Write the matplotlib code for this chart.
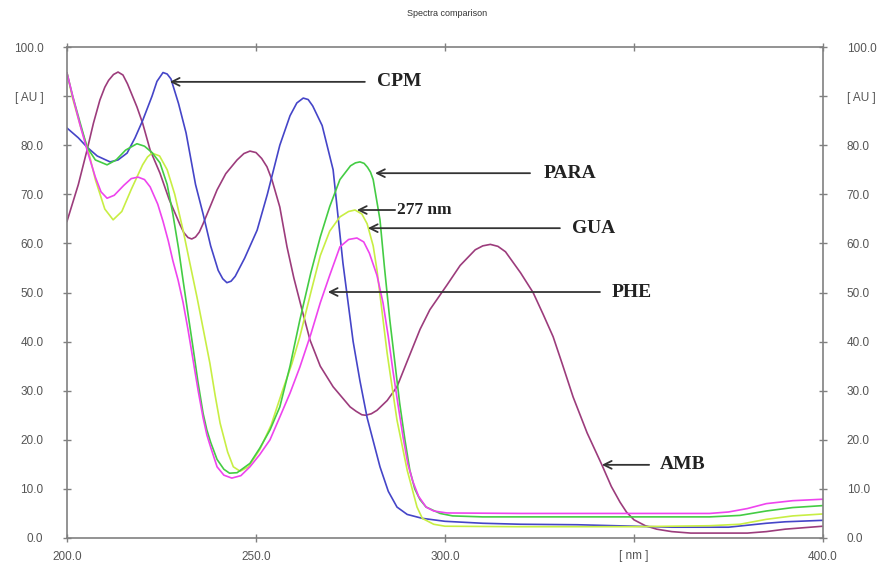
import matplotlib
matplotlib.use("Agg")
import matplotlib.pyplot as plt

# ---------------- data ----------------
amb_x = [200, 203, 205.3, 207, 208.7, 210, 211, 212.3, 213.5, 214.8, 216, 218.5, 220, 222, 224.6,
         227, 229.9, 230.9, 232, 233, 234, 235, 236, 239.7, 242, 245, 246.8, 248.4, 250, 251.5,
         252.9, 254.2, 256.3, 258.2, 260, 262.4, 264.3, 267, 270.4, 274.9, 276.5, 278, 279, 280.5,
         282, 284.7, 287.3, 290, 293.4, 296, 300.5, 304, 308, 310, 312, 314, 316, 320, 323.3, 326,
         328.6, 331, 333.9, 337.6, 341.5, 344, 346.3, 348, 350, 353, 356, 360, 365, 370, 375, 380,
         385, 390, 395, 400]
amb_y = [64.5, 72, 79, 84.5, 89.2, 91.8, 93.2, 94.4, 94.9, 94.3, 92.5, 87.8, 84.5, 79, 74.3,
         69, 63.8, 62.2, 61.2, 60.9, 61.3, 62.3, 64, 70.9, 74.2, 77, 78.3, 78.8, 78.5, 77.3,
         75.6, 73, 67.4, 59.3, 53, 45.8, 40.3, 35, 30.8, 26.7, 25.8, 25.1, 25, 25.3,
         26, 28, 30.8, 36, 42.5, 46.5, 51.5, 55.5, 58.7, 59.5, 59.8, 59.4, 58.3, 54, 50, 45.5,
         41, 35.5, 28.7, 21.4, 14.9, 10.5, 7.3, 5.3, 3.7, 2.5, 1.8, 1.3, 1.0, 1.0, 1.0, 1.0,
         1.3, 1.8, 2.1, 2.4]

cpm_x = [200, 203, 205.3, 208, 211.4, 213.5, 215.9, 218, 220, 222.5, 223.8, 225.4, 226.5, 227.5,
         229.5, 231.5, 234, 236, 238, 240, 241.2, 242.3, 243.4, 244.5, 247, 250.3, 253, 256.3, 259,
         260.8, 262.5, 263.8, 265, 267.5, 270.4, 273, 275.7, 277.5, 279.4, 282.8, 285, 287.3, 290,
         294, 300, 310, 320, 335, 350, 360, 370, 375, 380, 385, 390, 400]
cpm_y = [83.5, 81.5, 79.6, 77.8, 76.6, 77, 78.4, 81.5, 85, 90, 93, 94.8, 94.5, 93.5,
         88.5, 82.5, 72, 66, 59.5, 54.5, 52.8, 52, 52.3, 53.3, 57, 62.7, 70, 80, 86,
         88.6, 89.6, 89.3, 88, 84, 75, 56, 40, 32, 24.5, 14.5, 9.5, 6.3, 4.8,
         4.0, 3.4, 3.0, 2.8, 2.7, 2.4, 2.2, 2.2, 2.2, 2.6, 3.0, 3.3, 3.6]

para_x = [200, 201.5, 203.5, 205.3, 207.5, 210.6, 213, 215.5, 218.5, 220.5, 222.5, 224.6, 226.5,
          228, 229.5, 230.7, 232, 233.3, 234.6, 236, 237, 238, 239.7, 241.5, 243, 245, 248.4, 251,
          253.7, 256.3, 259, 261.6, 264.5, 267, 269.5, 272.2, 275, 276.3, 277.5, 278.6, 279.5,
          280.3, 281, 282.8, 284, 285.4, 286.7, 288, 289.4, 290.7, 292, 293.4, 295, 298.7, 302,
          310, 330, 350, 370, 378, 385, 392, 400]
para_y = [94.7, 90, 84.5, 79.6, 77, 76, 77, 79, 80.3, 79.8, 78.5, 76.4, 72,
          66, 59, 52.5, 45.7, 39, 32, 25.4, 22, 19.5, 16, 14, 13.2, 13.3, 15.2, 18.3,
          22, 26.7, 35, 44.4, 54, 61.3, 67.5, 73, 75.8, 76.4, 76.6, 76.3, 75.5,
          74.5, 73, 64.8, 55, 44.4, 36, 27.5, 20, 13.8, 10, 7.8, 6.3, 5.0, 4.5,
          4.3, 4.3, 4.3, 4.3, 4.6, 5.5, 6.2, 6.6]

gua_x = [200, 201.5, 203.5, 205.6, 207.5, 210, 212.2, 214.5, 217, 220, 221.3, 222.5, 224.5, 226.5,
         228.5, 230.7, 232.5, 234.4, 236.1, 237.8, 239.2, 240.5, 242.5, 244, 245.8, 248, 251, 254,
         257, 259.5, 261.6, 264.5, 267, 269.5, 272.2, 274.5, 276.2, 278, 279.4, 281, 282, 284.7,
         287.3, 290, 292.6, 294, 297, 300, 320, 350, 370, 378, 385, 392, 400]
gua_y = [94.7, 89.5, 84, 79, 73, 67, 64.8, 66.5, 71, 76, 77.6, 78.4, 77.8, 75,
         70, 62.7, 56, 49, 42.3, 35.6, 29, 23.4, 17.5, 14.5, 13.6, 14.5, 18, 23,
         30, 35.5, 41, 50, 57.5, 62.5, 65.4, 66.5, 66.8, 66, 64, 59.5, 54.6, 37.6,
         24, 13.8, 6.3, 4.0, 2.8, 2.4, 2.3, 2.3, 2.5, 2.8, 3.8, 4.5, 4.9]

phe_x = [200, 201.5, 203.5, 205.5, 207.5, 209, 210.6, 212.5, 215, 217, 218.8, 220.5, 222, 224,
         225.4, 226.8, 228, 229.4, 230.7, 232, 233.3, 234.7, 236, 237, 238, 239.7, 241.5, 243.6,
         246, 248.4, 251, 253.7, 256.5, 259, 261.6, 264.5, 267, 269.5, 272.2, 274.5, 276.7, 278.5,
         280, 282, 283.6, 285, 286.2, 287.5, 288.9, 290.2, 291.5, 293, 295, 297, 300.5, 320, 350,
         370, 375, 380, 385, 392, 400]
phe_y = [94.7, 90, 84, 78.5, 73.5, 70.5, 69.2, 69.8, 71.8, 73.2, 73.5, 73, 71.5, 68,
         64.5, 60.5, 56.5, 52.5, 48, 42.5, 36.5, 30, 24.5, 21, 18.5, 14.5, 12.8, 12.2,
         12.7, 14.5, 17, 20, 25, 29.5, 34.8, 41.5, 47.9, 53.5, 59.3, 60.8, 61.1, 60.3,
         58, 53.5, 47.9, 41, 34.2, 27.5, 20.6, 15, 11.5, 8.5, 6.3, 5.5, 5.1, 5.0, 5.0,
         5.0, 5.3, 6.0, 7.0, 7.6, 7.9]

x_ticks = [200, 250, 300, 350, 400]
x_tick_labels = ["200.0", "250.0", "300.0", "[ nm ]", "400.0"]
y_ticks = [0, 10, 20, 30, 40, 50, 60, 70, 80, 90, 100]
y_tick_labels = ["0.0", "10.0", "20.0", "30.0", "40.0", "50.0", "60.0", "70.0", "80.0", "[ AU ]", "100.0"]

# annotations: label, arrow head (x, y), arrow tail x, text x
ann_labels = ["CPM", "PARA", "277 nm", "GUA", "PHE", "AMB"]
ann_head = [(227.2, 92.9), (281.5, 74.3), (276.7, 66.8), (279.6, 63.1), (269.0, 50.1), (341.5, 14.9)]
ann_tail_x = [278.8, 322.5, 286.8, 330.4, 341.0, 354.0]
ann_text_x = [282.0, 326.0, 287.3, 333.6, 344.2, 356.9]
ann_size = [14, 14, 12.5, 14, 14, 14]

# ---------------- figure ----------------
fig = plt.figure(figsize=(8.8, 5.64), dpi=100)
ax = fig.add_axes([67 / 880, 1 - 538 / 564, (823 - 67) / 880, (538 - 47) / 564])

lw = 1.2
ax.plot(amb_x, amb_y, color="#9c3c7c", lw=lw)
ax.plot(cpm_x, cpm_y, color="#4545c8", lw=lw)
ax.plot(gua_x, gua_y, color="#c8ee44", lw=lw)
ax.plot(para_x, para_y, color="#44cc44", lw=lw)
ax.plot(phe_x, phe_y, color="#ee44ee", lw=lw)

ax.set_xlim(200, 400)
ax.set_ylim(0, 100)
ax.set_xticks(x_ticks)
ax.set_xticklabels(x_tick_labels)
ax.set_yticks(y_ticks)
ax.set_yticklabels(y_tick_labels)

for s in ax.spines.values():
    s.set_color("#808080")
    s.set_linewidth(1.2)

ax.tick_params(axis="both", direction="inout", length=6, width=1, color="#808080",
               labelsize=8.5, labelcolor="#555555")
ax.tick_params(axis="y", left=True, right=True, labelleft=True, labelright=True, pad=14)
ax.tick_params(axis="x", top=True, bottom=True, labeltop=False, pad=6)
for t in ax.yaxis.get_major_ticks() + ax.xaxis.get_major_ticks():
    t.label1.set_family("Liberation Sans")
    t.label2.set_family("Liberation Sans")
    t.label2.set_color("#555555")

for lab, head, tx, txt_x, fs in zip(ann_labels, ann_head, ann_tail_x, ann_text_x, ann_size):
    ax.annotate("", xy=head, xytext=(tx, head[1]),
                arrowprops=dict(arrowstyle="->", color="#333333", lw=1.3,
                                shrinkA=0, shrinkB=0, mutation_scale=14))
    ax.text(txt_x, head[1], lab, family="Liberation Serif", weight="bold", fontsize=fs,
            color="#222222", va="center", ha="left")

fig.text(447 / 880, 1 - 13 / 564, "Spectra comparison", ha="center", va="center",
         fontsize=6.5, family="Liberation Sans", color="#333333")

fig.savefig("out.png", dpi=100)
